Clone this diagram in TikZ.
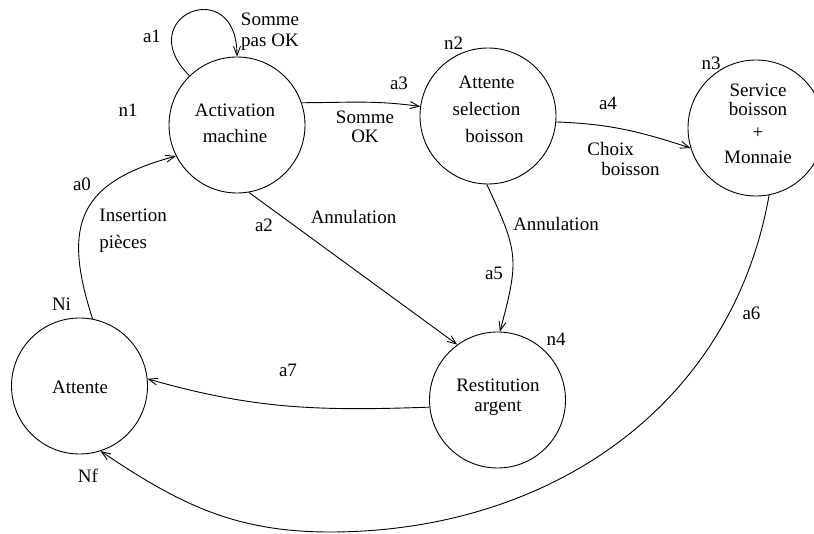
\documentclass[tikz,border=0pt]{standalone}
\usepackage{fontspec}
\setmainfont{Liberation Serif}
\usetikzlibrary{arrows.meta}
\begin{document}
\begin{tikzpicture}[x=1pt,y=1pt,
  line width=0.9pt,
  >={Straight Barb[length=9pt,width=7pt]},
  every node/.style={font=\fontsize{19}{21}\selectfont, inner sep=0pt},
  state/.style={circle,draw,minimum size=136pt},
  txt/.style={align=center},
  ltxt/.style={align=left,anchor=west},
  trans/.style={->}]
\useasboundingbox (0,0) rectangle (814,-534);

% states
\node[state] (n1) at (237,-125) {};
\node[state] (n2) at (488,-116) {};
\node[state] (n3) at (756,-128) {};
\node[state] (n4) at (497.5,-400) {};
\node[state] (Ni) at (79.5,-386) {};

% state texts
\node[txt] (n1t) at (235,-123) {Activation\\[5pt]machine};
\node[txt] (n2t) at (486.5,-109) {Attente\\[6pt]selection\\[6pt]\hspace*{16pt}boisson};
\node[txt] (n3t) at (758,-123.5) {Service\\[-2pt]boisson\\[2pt]+\\[4pt]Monnaie};
\node[txt] (n4t) at (498,-397) {Restitution\\[-1pt]argent};
\node[txt] (Nit) at (80,-387) {Attente};

% state names
\node (lbn1) at (128,-110) {n1};
\node (lbn2) at (453.5,-43) {n2};
\node (lbn3) at (711,-63) {n3};
\node (lbn4) at (556,-339) {n4};
\node (lbNi) at (61.5,-304) {Ni};
\node (lbNf) at (88,-476) {Nf};

% transition names and events
\node (la0) at (82,-184) {a0};
\node[ltxt] (ls0) at (99,-231) {Insertion\\[6pt]pièces};
\node (la1) at (152,-36) {a1};
\node[txt] (ls1) at (270,-32) {Somme\\pas OK};
\node (la2) at (264,-225) {a2};
\node (ls2) at (353.5,-217) {Annulation};
\node (la3) at (399,-83) {a3};
\node[txt] (ls3) at (365,-126.5) {Somme\\[-2pt]OK};
\node (la4) at (608,-103) {a4};
\node[ltxt] (ls4) at (587,-159.5) {Choix\\[-1pt]\hspace*{14pt}boisson};
\node (la5) at (494,-273) {a5};
\node (ls5) at (556,-224) {Annulation};
\node (la6) at (751.5,-313) {a6};
\node (la7) at (288,-370) {a7};

% transitions
\draw[trans] (Ni.79) to[out=108,in=195,looseness=1.4] (n1.207);
\draw[trans] (n1.134) to[out=135,in=90,looseness=4.2] (n1.90);
\draw[trans] (n1.-80) -- (n4.126);
\draw[trans] (n1.19) to[out=0,in=172] (n2.172);
\draw[trans] (n2.-5) to[out=-2,in=162] (n3.197);
\draw[trans] (n2.-91) to[out=-65,in=75,looseness=1.3] (n4.88);
\coordinate (a6low) at (330,-532);
\draw[trans] (n3.-79) to[out=-100,in=0] (a6low) to[out=180,in=-34] (Ni.-72);
\draw[trans] (n4.186) to[out=182,in=-16] (Ni.6);
\end{tikzpicture}
\end{document}
